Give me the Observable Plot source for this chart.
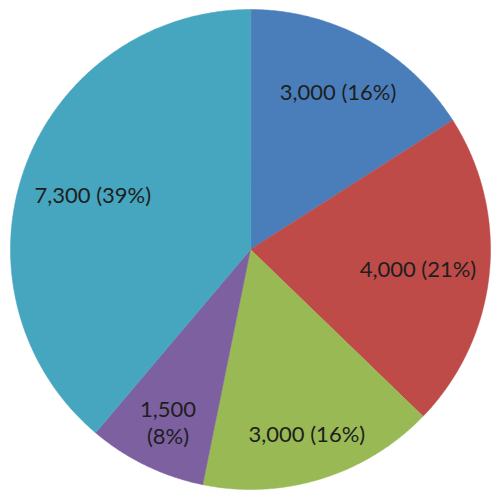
<!DOCTYPE html>
<html>
<head>
<meta charset="utf-8">
<script src="https://cdn.jsdelivr.net/npm/d3@7"></script>
<script src="https://cdn.jsdelivr.net/npm/@observablehq/plot@0.6"></script>
<style>
  html, body { margin: 0; padding: 0; background: #fff; }
</style>
</head>
<body>
<div id="chart"></div>
<script>
const categories = ["A", "B", "C", "D", "E"];
const values = [3000, 4000, 3000, 1500, 7300];
const labels = ["3,000 (16%)", "4,000 (21%)", "3,000 (16%)", "1,500\n(8%)", "7,300 (39%)"];
const colors = ["#4a7ebb", "#be4b48", "#98b954", "#7d60a0", "#46a5bf"];

const R = 240;
const fontSize = 22;
const fontFamily = "Lato";
const lineHeight = 1.25;
const fitDist = 228; // label box must fit within this distance of the center

const pie = d3.pie().sort(null).value(d => d.value)(
  categories.map((c, i) => ({category: c, value: values[i], label: labels[i]}))
);

// polygon points for each slice derived from pie angles
const slicePts = [];
for (const a of pie) {
  const cat = a.data.category;
  slicePts.push({category: cat, x: 0, y: 0});
  const n = Math.max(2, Math.ceil((a.endAngle - a.startAngle) / (Math.PI / 360)));
  for (let k = 0; k <= n; k++) {
    const t = a.startAngle + (a.endAngle - a.startAngle) * k / n;
    slicePts.push({category: cat, x: R * Math.sin(t), y: R * Math.cos(t)});
  }
}

// place each label along its mid-angle, as far out as its box still fits
const ctx = document.createElement("canvas").getContext("2d");
ctx.font = `${fontSize}px ${fontFamily}`;
const labelPts = pie.map(a => {
  const m = (a.startAngle + a.endAngle) / 2;
  const lines = a.data.label.split("\n");
  const w = d3.max(lines, l => ctx.measureText(l).width);
  const h = fontSize * 1.4 + (lines.length - 1) * fontSize * lineHeight;
  let lo = 0, hi = R;
  for (let k = 0; k < 40; k++) {
    const r = (lo + hi) / 2;
    const cx = Math.abs(r * Math.sin(m)) + w / 2;
    const cy = Math.abs(r * Math.cos(m)) + h / 2;
    if (Math.hypot(cx, cy) <= fitDist) lo = r; else hi = r;
  }
  return {label: a.data.label, x: lo * Math.sin(m), y: lo * Math.cos(m)};
});

const chart = Plot.plot({
  width: 500,
  height: 500,
  margin: 0,
  x: {domain: [-250, 250], range: [0, 500], axis: null},
  y: {domain: [-251, 249], range: [500, 0], axis: null},
  color: {domain: categories, range: colors},
  style: {background: "#fff"},
  marks: [
    Plot.line(slicePts, {x: "x", y: "y", z: "category", fill: "category", stroke: "category", strokeWidth: 0.5, curve: "linear-closed"}),
    Plot.text(labelPts, {x: "x", y: "y", dy: 2, text: "label", fill: "#1e1e1e", fontSize, fontFamily, lineHeight})
  ]
});
document.getElementById("chart").appendChild(chart);
</script>
</body>
</html>
